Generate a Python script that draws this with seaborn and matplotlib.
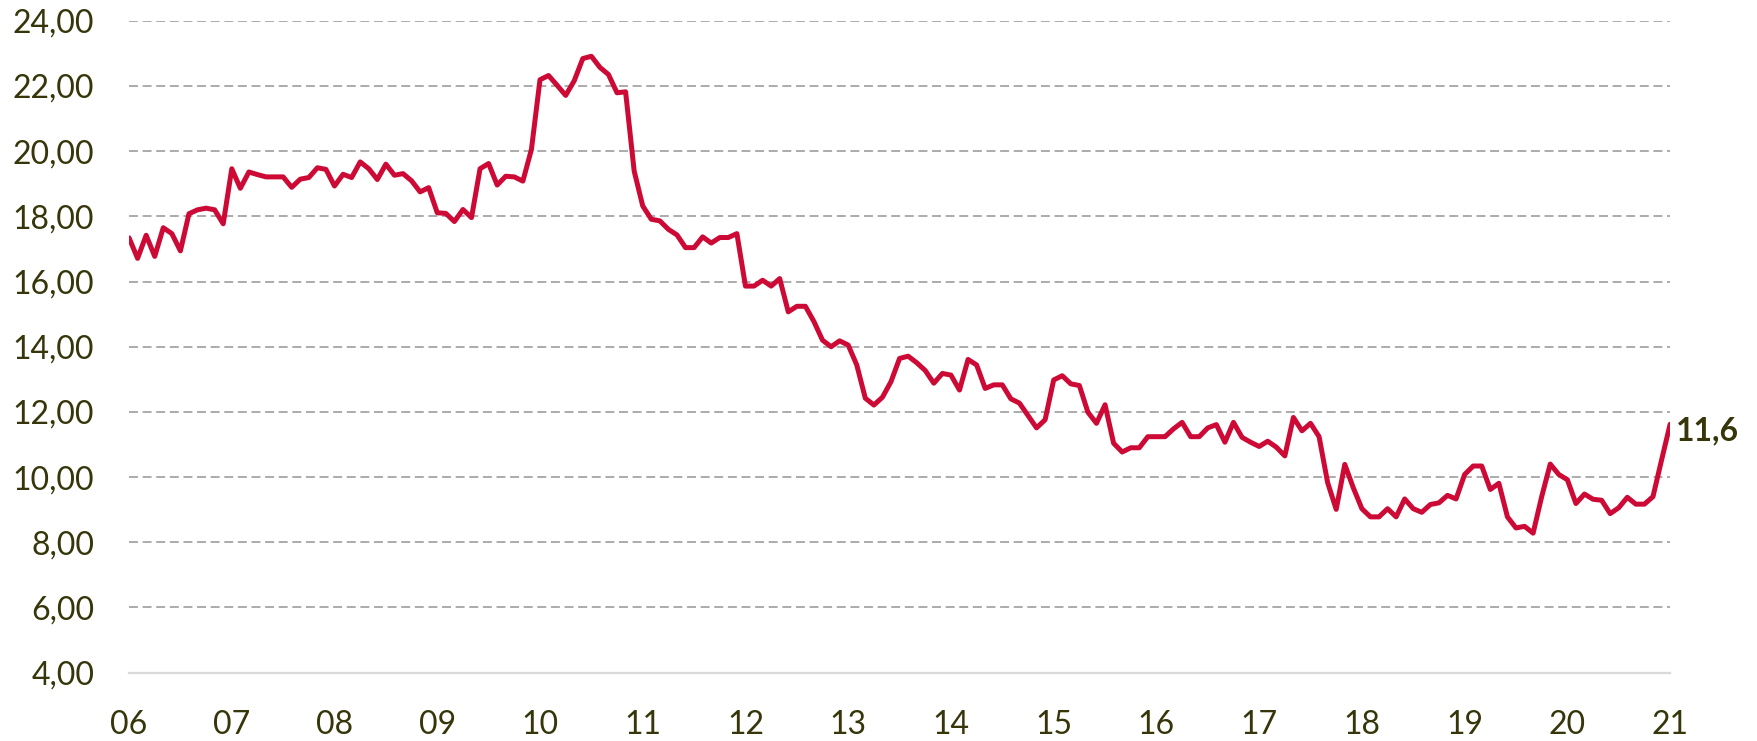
import numpy as np
import matplotlib
matplotlib.use('Agg')
import matplotlib.pyplot as plt
import matplotlib.ticker as ticker
import seaborn as sns

# -------------------------
# DATA (monthly, Jan 2006 - Jan 2021)
# -------------------------
v2006 = [17.34, 16.71, 17.42, 16.77, 17.65, 17.47, 16.94, 18.08, 18.20, 18.25, 18.20, 17.77]
v2007 = [19.46, 18.86, 19.36, 19.28, 19.21, 19.21, 19.21, 18.89, 19.14, 19.19, 19.49, 19.44]
v2008 = [18.93, 19.29, 19.19, 19.67, 19.46, 19.13, 19.60, 19.26, 19.31, 19.09, 18.75, 18.88]
v2009 = [18.11, 18.09, 17.84, 18.21, 17.96, 19.46, 19.62, 18.96, 19.23, 19.21, 19.08, 20.05]
v2010 = [22.19, 22.32, 22.02, 21.71, 22.16, 22.84, 22.91, 22.57, 22.35, 21.79, 21.82, 19.39]
v2011 = [18.32, 17.91, 17.86, 17.60, 17.43, 17.04, 17.04, 17.37, 17.18, 17.35, 17.35, 17.47]
v2012 = [15.86, 15.86, 16.04, 15.86, 16.09, 15.07, 15.24, 15.24, 14.77, 14.20, 14.00, 14.18]
v2013 = [14.05, 13.44, 12.42, 12.21, 12.45, 12.93, 13.64, 13.71, 13.51, 13.27, 12.88, 13.18]
v2014 = [13.13, 12.67, 13.61, 13.44, 12.72, 12.83, 12.83, 12.40, 12.27, 11.89, 11.51, 11.76]
v2015 = [12.98, 13.11, 12.86, 12.81, 11.99, 11.65, 12.22, 11.04, 10.77, 10.90, 10.90, 11.24]
v2016 = [11.24, 11.24, 11.48, 11.68, 11.24, 11.24, 11.51, 11.61, 11.07, 11.68, 11.22, 11.07]
v2017 = [10.94, 11.10, 10.92, 10.65, 11.83, 11.42, 11.65, 11.24, 9.83, 9.01, 10.39, 9.67]
v2018 = [9.03, 8.78, 8.78, 9.03, 8.78, 9.33, 9.03, 8.92, 9.16, 9.21, 9.44, 9.33]
v2019 = [10.08, 10.34, 10.34, 9.62, 9.81, 8.78, 8.44, 8.49, 8.28, 9.40, 10.40, 10.08]
v2020 = [9.92, 9.19, 9.48, 9.32, 9.29, 8.88, 9.06, 9.38, 9.17, 9.17, 9.40, 10.52]
v2021 = [11.62]

values = (v2006 + v2007 + v2008 + v2009 + v2010 + v2011 + v2012 + v2013
          + v2014 + v2015 + v2016 + v2017 + v2018 + v2019 + v2020 + v2021)
months = np.arange(len(values))

year_labels = ['06', '07', '08', '09', '10', '11', '12', '13',
               '14', '15', '16', '17', '18', '19', '20', '21']
y_ticks = [4, 6, 8, 10, 12, 14, 16, 18, 20, 22, 24]

# colors
line_color = '#CC0A35'
text_color = '#36360A'
grid_color = '#ABABAB'

sns.set_style('white')
plt.rcParams['font.family'] = ['Lato', 'DejaVu Sans']

fig = plt.figure(figsize=(17.58, 7.41), dpi=100)
ax = fig.add_axes([0.0734, 0.0922, 0.8766, 0.8798])

sns.lineplot(x=months, y=values, ax=ax, color=line_color, linewidth=3.6, zorder=3)

ax.set_xlim(0, 180)
ax.set_ylim(4, 24)
ax.set_xticks(np.arange(0, 181, 12))
ax.set_xticklabels(year_labels)
ax.set_yticks(y_ticks)
ax.yaxis.set_major_formatter(ticker.FuncFormatter(lambda v, _: '{:.2f}'.format(v).replace('.', ',')))

ax.yaxis.grid(True, color=grid_color, linewidth=1.4, linestyle=(0, (4.6, 2.4)))
ax.xaxis.grid(False)
for s in ['top', 'right', 'left']:
    ax.spines[s].set_visible(False)
ax.spines['bottom'].set_color('#D9D9D9')
ax.spines['bottom'].set_linewidth(1.6)
ax.spines['bottom'].set_zorder(2)

ax.tick_params(axis='both', length=0, labelsize=23, labelcolor=text_color)
ax.tick_params(axis='y', pad=25)
ax.tick_params(axis='x', pad=27)
ax.set_xlabel('')
ax.set_ylabel('')

# last value label
last = values[-1]
ax.annotate('{:.1f}'.format(last).replace('.', ','), (months[-1], last),
            textcoords='offset points', xytext=(4, -5), ha='left', va='center',
            fontsize=23, fontweight='bold', color=text_color, annotation_clip=False)

fig.savefig('out.png', dpi=100)
